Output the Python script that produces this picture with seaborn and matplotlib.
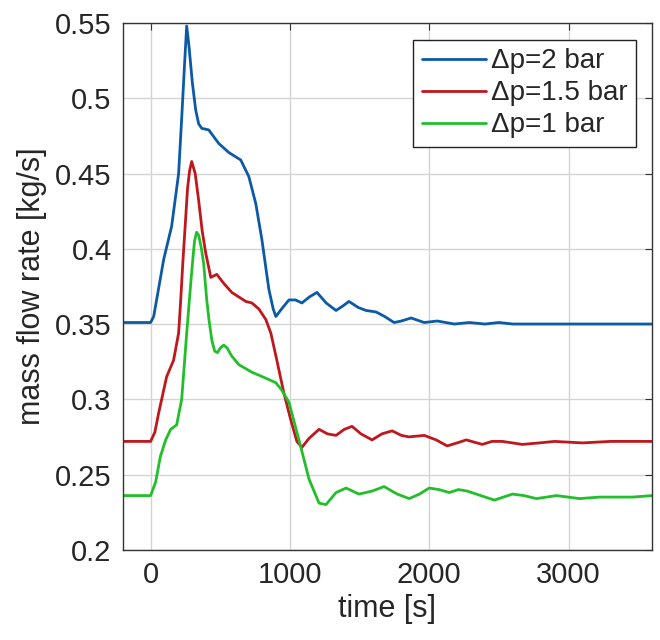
import numpy as np
import pandas as pd
import matplotlib
matplotlib.use("Agg")
import matplotlib.pyplot as plt
import seaborn as sns

# values
t_2bar = [-200, 0, 22, 60, 94, 151, 201, 225, 245, 259, 275, 300, 324, 345, 367, 417,
          489, 561, 647, 705, 755, 799, 849, 880, 899, 940, 993, 1040, 1086, 1140, 1194,
          1260, 1331, 1380, 1424, 1490, 1547, 1619, 1680, 1748, 1800, 1870, 1964, 2058,
          2180, 2288, 2400, 2500, 2600, 2800, 3000, 3300, 3600]
m_2bar = [0.351, 0.351, 0.355, 0.375, 0.393, 0.415, 0.450, 0.490, 0.525, 0.548, 0.535,
          0.510, 0.492, 0.483, 0.480, 0.479, 0.470, 0.464, 0.459, 0.448, 0.430, 0.406,
          0.373, 0.360, 0.355, 0.360, 0.366, 0.366, 0.364, 0.368, 0.371, 0.364, 0.359,
          0.362, 0.365, 0.361, 0.359, 0.358, 0.355, 0.351, 0.352, 0.354, 0.351, 0.352,
          0.350, 0.351, 0.350, 0.351, 0.350, 0.350, 0.350, 0.350, 0.350]

t_15bar = [-200, 0, 30, 58, 115, 165, 201, 216, 232, 252, 265, 280, 295, 320, 345, 370,
           396, 432, 475, 525, 583, 683, 727, 777, 827, 863, 906, 957, 1007, 1050, 1086,
           1137, 1209, 1270, 1331, 1390, 1446, 1510, 1590, 1660, 1734, 1800, 1856, 1964,
           2050, 2129, 2200, 2266, 2381, 2450, 2525, 2669, 2791, 2900, 3100, 3300, 3600]
m_15bar = [0.272, 0.272, 0.278, 0.291, 0.315, 0.326, 0.344, 0.366, 0.392, 0.421, 0.440,
           0.452, 0.458, 0.450, 0.432, 0.412, 0.397, 0.381, 0.383, 0.377, 0.371, 0.365,
           0.364, 0.360, 0.353, 0.344, 0.326, 0.304, 0.286, 0.272, 0.268, 0.274, 0.280,
           0.277, 0.276, 0.280, 0.282, 0.277, 0.273, 0.277, 0.279, 0.276, 0.275, 0.276,
           0.273, 0.269, 0.271, 0.273, 0.270, 0.272, 0.272, 0.270, 0.271, 0.272, 0.271,
           0.272, 0.272]

t_1bar = [-200, 0, 36, 70, 108, 144, 187, 223, 259, 288, 300, 315, 330, 345, 365, 381,
          403, 420, 440, 460, 480, 500, 525, 550, 580, 633, 727, 827, 899, 942, 993,
          1065, 1137, 1209, 1259, 1331, 1403, 1496, 1590, 1676, 1770, 1856, 1930, 2000,
          2070, 2144, 2210, 2273, 2370, 2468, 2597, 2680, 2770, 2914, 3079, 3223, 3460,
          3600]
m_1bar = [0.236, 0.236, 0.245, 0.262, 0.273, 0.280, 0.283, 0.300, 0.344, 0.377, 0.390,
          0.405, 0.411, 0.409, 0.400, 0.390, 0.366, 0.352, 0.339, 0.332, 0.331, 0.334,
          0.336, 0.334, 0.329, 0.323, 0.318, 0.314, 0.311, 0.306, 0.298, 0.273, 0.247,
          0.231, 0.230, 0.238, 0.241, 0.237, 0.239, 0.242, 0.237, 0.234, 0.237, 0.241,
          0.240, 0.238, 0.240, 0.239, 0.236, 0.233, 0.237, 0.236, 0.234, 0.236, 0.234,
          0.235, 0.235, 0.236]

labels = ["Δp=2 bar", "Δp=1.5 bar", "Δp=1 bar"]
colors = ["#0b5aa6", "#c0161d", "#22bf2b"]

df = pd.concat([
    pd.DataFrame({"time": t_2bar, "mdot": m_2bar, "case": labels[0]}),
    pd.DataFrame({"time": t_15bar, "mdot": m_15bar, "case": labels[1]}),
    pd.DataFrame({"time": t_1bar, "mdot": m_1bar, "case": labels[2]}),
])

sns.set_style("white")
plt.rcParams["font.family"] = ["Liberation Sans", "DejaVu Sans"]

fig, ax = plt.subplots(figsize=(6.6, 6.4), dpi=100)
fig.subplots_adjust(left=0.186, right=0.988, bottom=0.141, top=0.964)

sns.lineplot(data=df, x="time", y="mdot", hue="case", palette=colors,
             hue_order=labels, linewidth=2.0, ax=ax, sort=False)

ax.set_xlim(-200, 3600)
ax.set_ylim(0.2, 0.55)
ax.set_xticks([0, 1000, 2000, 3000])
ax.set_yticks([0.2, 0.25, 0.3, 0.35, 0.4, 0.45, 0.5, 0.55])
ax.set_yticklabels(["0.2", "0.25", "0.3", "0.35", "0.4", "0.45", "0.5", "0.55"])
ax.grid(True, color="#d4d4d4", linewidth=1.0)
ax.set_axisbelow(True)
ax.tick_params(direction="in", length=5, labelsize=21, top=True, right=True,
               color="#333333", pad=8)
for s in ax.spines.values():
    s.set_color("#333333")
    s.set_linewidth(1.0)

ax.set_xlabel("time [s]", fontsize=22, labelpad=4)
ax.set_ylabel("mass flow rate [kg/s]", fontsize=22, labelpad=6)

leg = ax.legend(loc="upper right", bbox_to_anchor=(0.97, 0.968), fontsize=20,
                frameon=True, fancybox=False, framealpha=1, edgecolor="#222222",
                handlelength=2.3, handletextpad=0.2, labelspacing=0.22,
                borderpad=0.3, borderaxespad=0)
leg.get_frame().set_linewidth(1.0)

plt.savefig("out.png", dpi=100)
